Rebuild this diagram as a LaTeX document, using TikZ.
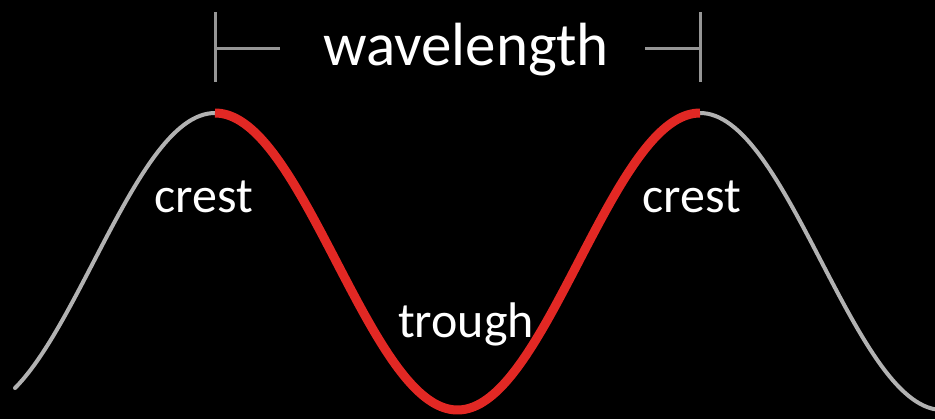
\documentclass[tikz,border=0pt]{standalone}
\usepackage{fontspec}
\setmainfont{Carlito}
\usepackage{tikz}
\usetikzlibrary{positioning, calc}
\definecolor{wavegray}{RGB}{178,178,178}
\definecolor{barsgray}{RGB}{150,150,150}
\definecolor{wavered}{RGB}{226,40,36}
\tikzset{
  wave/.style={draw=wavegray, line width=4bp, line cap=round},
  redwave/.style={draw=wavered, line width=9bp},
  bar/.style={draw=barsgray, line width=3bp},
  label/.style={text=white, inner sep=0pt, anchor=base},
  biglabel/.style={label, font=\fontsize{61bp}{70bp}\selectfont},
  smalllabel/.style={label, font=\fontsize{50bp}{60bp}\selectfont}
}
\begin{document}
\begin{tikzpicture}[x=1bp, y=-1bp]
  % Background
  \fill[black] (0,0) rectangle (935,419);
  \useasboundingbox (0,0) rectangle (935,419);

  % Wave
  \draw[wave] plot[domain=15:935, samples=240] (\x, {261.5-148.5*cos(0.742268*(\x-215))});
  \draw[redwave] plot[domain=215:700, samples=160] (\x, {261.5-148.5*cos(0.742268*(\x-215))});

  % Wavelength markers
  \coordinate (ltop) at (215,12);
  \coordinate (lbot) at (215,82);
  \coordinate (lmid) at (215,48);
  \coordinate (lend) at (280,48);
  \coordinate (rtop) at (700,12);
  \coordinate (rbot) at (700,82);
  \coordinate (rmid) at (700,48);
  \coordinate (rend) at (645,48);
  \draw[bar] (ltop) -- (lbot);
  \draw[bar] (lmid) -- (lend);
  \draw[bar] (rtop) -- (rbot);
  \draw[bar] (rmid) -- (rend);

  % Labels
  \node[biglabel] (wavelength) at (466,65) {wavelength};
  \node[smalllabel] (crestl) at (203.5,212) {crest};
  \node[smalllabel] (crestr) at (691.5,212) {crest};
  \node[smalllabel] (trough) at (466,337) {trough};
\end{tikzpicture}
\end{document}
